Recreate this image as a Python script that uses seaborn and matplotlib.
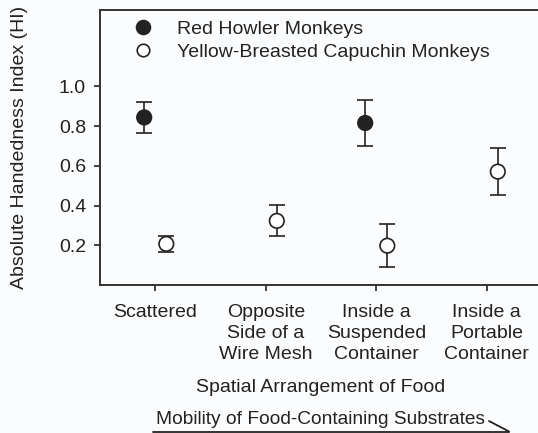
import matplotlib
matplotlib.use("Agg")
import matplotlib.pyplot as plt
from matplotlib.lines import Line2D
import numpy as np
import pandas as pd
import seaborn as sns

# data
categories = ["Scattered", "Opposite\nSide of a\nWire Mesh", "Inside a\nSuspended\nContainer",
              "Inside a\nPortable\nContainer"]
species = ["Red Howler Monkeys", "Yellow-Breasted Capuchin Monkeys"]
howler_hi = [0.844, np.nan, 0.816, np.nan]
howler_lo = [0.768, np.nan, 0.698, np.nan]
howler_up = [0.924, np.nan, 0.933, np.nan]
capuchin_hi = [0.207, 0.323, 0.198, 0.571]
capuchin_lo = [0.167, 0.245, 0.089, 0.451]
capuchin_up = [0.245, 0.401, 0.305, 0.690]
y_ticks = [0.2, 0.4, 0.6, 0.8, 1.0]

sns.set_theme(style="ticks")
plt.rcParams['font.family'] = ['Liberation Sans', 'DejaVu Sans']
ink = "#222222"
bg = "#fbfcfd"
fs = 14

rows = []
for i, c in enumerate(categories):
    rows.append(dict(cat=i, species=species[0], hi=howler_hi[i], lo=howler_lo[i], up=howler_up[i]))
    rows.append(dict(cat=i, species=species[1], hi=capuchin_hi[i], lo=capuchin_lo[i], up=capuchin_up[i]))
df = pd.DataFrame(rows).dropna()
offset = {species[0]: -0.1, species[1]: 0.1}
df["x"] = df["cat"] + df["species"].map(offset)

fig = plt.figure(figsize=(5.38, 4.33), dpi=100, facecolor=bg)
ax = fig.add_axes([100 / 538, 148 / 433, 442 / 538, 275 / 433])
ax.set_facecolor(bg)

# error bars first, markers on top
for sp in species:
    d = df[df["species"] == sp]
    ax.errorbar(d["x"], d["hi"], yerr=[d["hi"] - d["lo"], d["up"] - d["hi"]],
                fmt="none", ecolor=ink, elinewidth=1.2, capsize=6, capthick=1.2, zorder=2)

sns.scatterplot(data=df, x="x", y="hi", hue="species", hue_order=species,
                palette={species[0]: ink, species[1]: "white"}, edgecolor=ink,
                linewidth=1.2, s=110, ax=ax, zorder=3, legend=False)

ax.set_xlim(-0.5, 3.5)
ax.set_ylim(0, 1.385)
ax.set_xticks(range(len(categories)))
ax.set_xticklabels(categories, fontsize=fs, color=ink, linespacing=1.28)
ax.set_yticks(y_ticks)
ax.set_yticklabels([f"{t:.1f}" for t in y_ticks], fontsize=fs, color=ink)
ax.tick_params(axis="both", direction="out", length=4, width=1.2, color=ink, pad=6)
ax.tick_params(axis="x", pad=10)
for s in ax.spines.values():
    s.set_color("#333333")
    s.set_linewidth(1.4)
ax.set_xlabel("Spatial Arrangement of Food", fontsize=fs, color=ink, labelpad=12)
ax.set_ylabel("Absolute Handedness Index (HI)", fontsize=fs, color=ink, labelpad=22)

handles = [Line2D([], [], marker="o", ls="none", markersize=10, markerfacecolor=ink,
                  markeredgecolor=ink, markeredgewidth=1.2),
           Line2D([], [], marker="o", ls="none", markersize=9, markerfacecolor="white",
                  markeredgecolor=ink, markeredgewidth=1.2)]
leg = ax.legend(handles, species, loc="upper left", bbox_to_anchor=(0.03, 1.0), frameon=False,
                fontsize=fs, handletextpad=0.75, labelspacing=0.25, borderaxespad=0.15)
for t in leg.get_texts():
    t.set_color(ink)

fig.text(320 / 538, 1 - 420 / 433, "Mobility of Food-Containing Substrates", ha="center",
         va="center", fontsize=13.8, color=ink)
fig.add_artist(Line2D([153 / 538, 509 / 538], [1 - 431.5 / 433] * 2, color=ink, lw=1.3,
                      transform=fig.transFigure))
fig.add_artist(Line2D([489 / 538, 509 / 538], [1 - 421 / 433, 1 - 431.5 / 433], color=ink,
                      lw=1.3, transform=fig.transFigure))

fig.savefig("out.png", dpi=100, facecolor=bg)
